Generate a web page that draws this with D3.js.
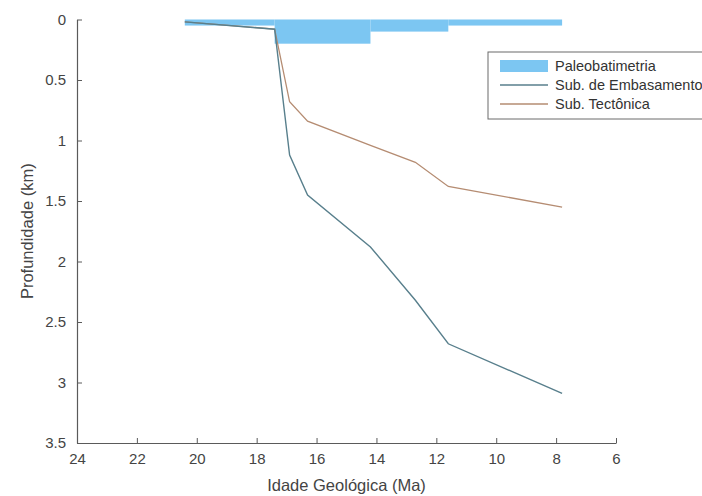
<!DOCTYPE html>
<html>
<head>
<meta charset="utf-8">
<script src="https://cdn.jsdelivr.net/npm/d3@7"></script>
<style>
  html, body { margin: 0; padding: 0; background: #fff; }
  svg { display: block; }
  text { font-family: "Liberation Sans", Arial, sans-serif; }
</style>
</head>
<body>
<svg id="chart" width="702" height="496"></svg>
<script>
// ---- data ----
const ages = [20.4, 17.4, 16.9, 16.3, 14.2, 12.7, 11.6, 7.8];          // Ma
const subEmbasamento = [0.02, 0.08, 1.12, 1.45, 1.88, 2.32, 2.68, 3.09]; // km
const subTectonica = [0.02, 0.08, 0.68, 0.84, 1.04, 1.18, 1.38, 1.55];   // km
// paleobathymetry step intervals: start age, end age, depth
const paleoStart = [20.4, 17.4, 14.2, 11.6];
const paleoEnd = [17.4, 14.2, 11.6, 7.8];
const paleoDepth = [0.05, 0.2, 0.1, 0.05];
const xTicks = [24, 22, 20, 18, 16, 14, 12, 10, 8, 6];
const yTicks = [0, 0.5, 1, 1.5, 2, 2.5, 3, 3.5];
const legendLabels = ["Paleobatimetria", "Sub. de Embasamento", "Sub. Tectônica"];

// ---- layout ----
const svg = d3.select("#chart");
const mLeft = 77, mRight = 616, mTop = 19.5, mBottom = 443;
const x = d3.scaleLinear().domain([24, 6]).range([mLeft, mRight]);
const y = d3.scaleLinear().domain([0, 3.5]).range([mTop, mBottom]);

const axisColor = "#5a5a5a";
const textColor = "#444";
const colPaleo = "#7cc6f2";
const colEmb = "#587f8c";
const colTec = "#b58c72";

// paleobathymetry bars
svg.append("g").selectAll("rect")
  .data(paleoStart.map((s, i) => ({ s, e: paleoEnd[i], d: paleoDepth[i] })))
  .join("rect")
  .attr("x", d => x(d.s))
  .attr("width", d => x(d.e) - x(d.s))
  .attr("y", y(0))
  .attr("height", d => y(d.d) - y(0))
  .attr("fill", colPaleo);

// lines
const line = vals => d3.line().x((d, i) => x(ages[i])).y(d => y(d))(vals);
svg.append("path").attr("d", line(subTectonica))
  .attr("fill", "none").attr("stroke", colTec).attr("stroke-width", 1.3);
svg.append("path").attr("d", line(subEmbasamento))
  .attr("fill", "none").attr("stroke", colEmb).attr("stroke-width", 1.4);

// axes
const xAxis = d3.axisBottom(x).tickValues(xTicks).tickSizeInner(-5).tickSizeOuter(0)
  .tickFormat(d3.format("d")).tickPadding(10);
const gx = svg.append("g").attr("transform", `translate(0,${mBottom})`).call(xAxis);
const yAxis = d3.axisLeft(y).tickValues(yTicks).tickSizeInner(-5).tickSizeOuter(0)
  .tickFormat(d => String(d)).tickPadding(11);
const gy = svg.append("g").attr("transform", `translate(${mLeft},0)`).call(yAxis);
[gx, gy].forEach(g => {
  g.select(".domain").attr("stroke", axisColor).attr("stroke-width", 1.2);
  g.selectAll(".tick line").attr("stroke", axisColor);
  g.selectAll(".tick text").attr("fill", textColor).style("font-size", "15px")
    .style("font-family", "'Liberation Sans', Arial, sans-serif");
});

// axis labels
svg.append("text").attr("x", (mLeft + mRight) / 2).attr("y", 491)
  .attr("text-anchor", "middle").attr("fill", textColor).style("font-size", "16.5px")
  .text("Idade Geológica (Ma)");
svg.append("text").attr("transform", `translate(33,${(mTop + mBottom) / 2}) rotate(-90)`)
  .attr("text-anchor", "middle").attr("fill", textColor).style("font-size", "16.5px")
  .text("Profundidade (km)");

// legend
const lg = svg.append("g").attr("transform", "translate(488,52)");
lg.append("rect").attr("x", 0).attr("y", 0).attr("width", 240).attr("height", 67)
  .attr("fill", "#fff").attr("stroke", "#6a6a6a").attr("stroke-width", 1);
const rowY = [14, 33, 52];
lg.append("rect").attr("x", 12).attr("y", rowY[0] - 6).attr("width", 48).attr("height", 12)
  .attr("fill", colPaleo);
lg.append("line").attr("x1", 12).attr("x2", 60).attr("y1", rowY[1]).attr("y2", rowY[1])
  .attr("stroke", colEmb).attr("stroke-width", 1.3);
lg.append("line").attr("x1", 12).attr("x2", 60).attr("y1", rowY[2]).attr("y2", rowY[2])
  .attr("stroke", colTec).attr("stroke-width", 1.3);
lg.selectAll("text.lab").data(legendLabels).join("text").attr("class", "lab")
  .attr("x", 67).attr("y", (d, i) => rowY[i]).attr("dy", "0.35em")
  .attr("fill", "#333").style("font-size", "14.5px").text(d => d);
</script>
</body>
</html>
